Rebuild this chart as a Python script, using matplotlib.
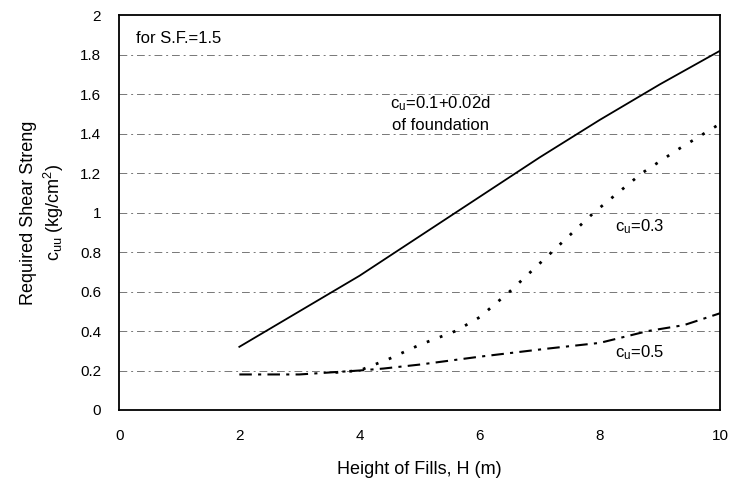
import matplotlib.pyplot as plt

plt.rcParams['font.family'] = ['Liberation Sans', 'DejaVu Sans']
plt.rcParams['mathtext.default'] = 'regular'

# solid line: c_u = 0.1 + 0.02d of foundation
h_lin = [2, 3, 4, 5, 5.5, 6, 7, 8, 9, 10]
cu_lin = [0.32, 0.50, 0.68, 0.88, 0.98, 1.08, 1.28, 1.47, 1.65, 1.82]

# dotted line: c_u = 0.3
h_03 = [3.6, 4, 4.5, 5, 5.6, 6, 6.5, 7.2, 7.9, 8.7, 9.3, 10]
cu_03 = [0.19, 0.20, 0.26, 0.33, 0.40, 0.47, 0.60, 0.80, 1.00, 1.20, 1.32, 1.45]

# dash-dot line: c_u = 0.5
h_05 = [2, 3, 3.5, 4, 4.4, 5, 6, 7.1, 8, 8.8, 9.4, 10]
cu_05 = [0.18, 0.18, 0.19, 0.20, 0.21, 0.23, 0.27, 0.31, 0.34, 0.40, 0.43, 0.49]

x_ticks = [0, 2, 4, 6, 8, 10]
y_ticks = [0, 0.2, 0.4, 0.6, 0.8, 1, 1.2, 1.4, 1.6, 1.8, 2]
y_labels = ['0', '0.2', '0.4', '0.6', '0.8', '1', '1.2', '1.4', '1.6', '1.8', '2']

fig = plt.figure(figsize=(7.31, 4.91), dpi=100)
ax = fig.add_axes([0.163, 0.165, 0.822, 0.804])

# grid lines (dash-dot, gray)
for y in y_ticks[1:-1]:
    ax.axhline(y, color='#777777', linestyle=(0, (8, 4, 2, 4)), linewidth=0.7, zorder=1)

ax.plot(h_lin, cu_lin, color='black', linewidth=1.3, zorder=3)
ax.plot(h_03, cu_03, color='black', linestyle=(0, (1, 4)), linewidth=2.0, zorder=3)
ax.plot(h_05, cu_05, color='black', linestyle=(0, (6, 3, 1.5, 3)), linewidth=1.5, zorder=3)

ax.set_xlim(0, 10)
ax.set_ylim(0, 2)
ax.set_xticks(x_ticks)
ax.set_xticklabels(['0', '2', '4', '6', '8', '10'])
ax.set_yticks(y_ticks)
ax.set_yticklabels(y_labels)
ax.tick_params(length=0, labelsize=11, pad=13)
ax.tick_params(axis='x', pad=14)
for sp in ax.spines.values():
    sp.set_linewidth(1.3)

ax.set_xlabel('Height of Fills, H (m)', fontsize=13, labelpad=13)
ax.set_ylabel('Required Shear Streng\nc$_{uu}$ (kg/cm$^2$)', fontsize=13, labelpad=10, linespacing=1.3)

ax.text(0.28, 1.88, 'for S.F.=1.5', fontsize=12, ha='left', va='center')
ax.text(5.35, 1.5, 'c$_u$=0.1+0.02d\nof foundation', fontsize=12, ha='center', va='center',
        linespacing=1.4)
ax.text(8.25, 0.93, 'c$_u$=0.3', fontsize=12, ha='left', va='center')
ax.text(8.25, 0.29, 'c$_u$=0.5', fontsize=12, ha='left', va='center')

plt.savefig('out.png', dpi=100)
